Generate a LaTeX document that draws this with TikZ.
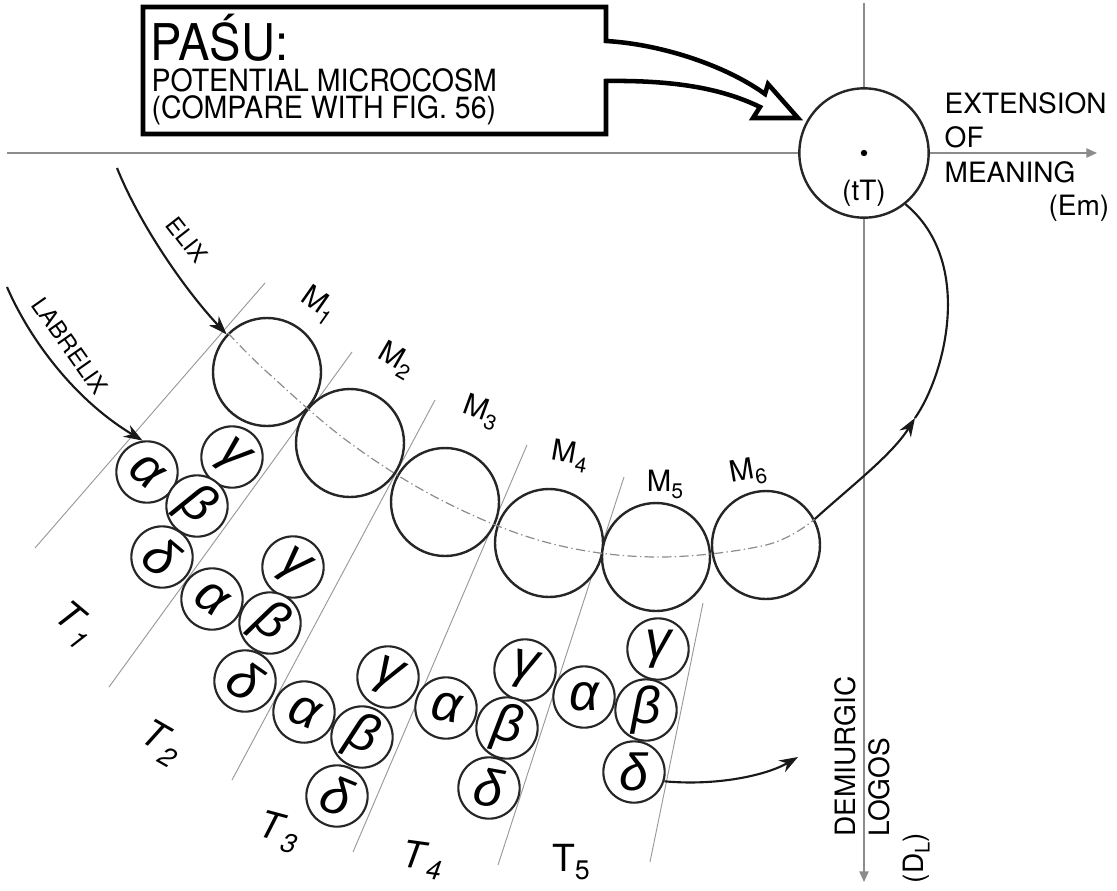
\documentclass[tikz,border=0pt]{standalone}
\usepackage{fontspec}
\setmainfont{TeX Gyre Heros}
\newfontfamily\grk{Liberation Sans}
\usetikzlibrary{arrows.meta}
\newcommand\sbs[1]{\raisebox{-0.45ex}{\scalebox{0.72}{#1}}}
\newcommand\narrow[1]{\scalebox{0.93}[1]{#1}}
\begin{document}
\begin{tikzpicture}[x=0.75pt,y=-0.75pt,
  axisline/.style={draw=black!45, line width=1.1pt},
  divline/.style={draw=black!40, line width=0.7pt},
  mcirc/.style={circle, draw=black!85, line width=1.8pt, fill=white, minimum size=81pt, inner sep=0pt},
  gcirc/.style={circle, draw=black!85, line width=1.6pt, fill=white, minimum size=46pt, inner sep=0pt, font=\grk\itshape\fontsize{39pt}{39pt}\selectfont},
  tcirc/.style={circle, draw=black!85, line width=1.8pt, fill=white, minimum size=97pt, inner sep=0pt},
  arr/.style={draw=black!90, line width=1.6pt, -{Stealth[length=14pt,width=10pt]}},
  labtxt/.style={font=\fontsize{21pt}{24pt}\selectfont},
  boxtxt/.style={font=\fontsize{23pt}{26pt}\selectfont},
  smalltxt/.style={font=\fontsize{17.5pt}{19pt}\selectfont},
  mlab/.style={font=\fontsize{22pt}{24pt}\selectfont},
  tlab/.style={font=\fontsize{28pt}{30pt}\selectfont}
]
\fill[white] (0,0) rectangle (1117,890);

% divider lines
\draw[divline] (35,548) -- (265,283);
\draw[divline] (109,687) -- (352,352);
\draw[divline] (232,780) -- (435,400);
\draw[divline] (353,852) -- (527,445);
\draw[divline] (498,865) -- (624,477);
\draw[divline] (650,862) -- (703,603);

% axes
\coordinate (hs) at (7,153);
\coordinate (he) at (1097,153);
\coordinate (vs) at (864,3);
\coordinate (ve) at (864,882);
\draw[axisline, -{Triangle[length=8pt,width=7pt]}] (hs) -- (he);
\draw[axisline, -{Triangle[length=8pt,width=7pt]}] (vs) -- (ve);

% M circles
\node[mcirc] (M1) at (267,372) {};
\node[mcirc] (M2) at (350,443) {};
\node[mcirc] (M3) at (445,502) {};
\node[mcirc] (M4) at (549,543) {};
\node[mcirc] (M5) at (656,557) {};
\node[mcirc] (M6) at (766,545) {};

% greek circles
\node[gcirc, rotate=-40] (a1) at (147,472) {α};
\node[gcirc, rotate=-40] (g1) at (232,457) {γ};
\node[gcirc, rotate=-40] (b1) at (197,506) {β};
\node[gcirc, rotate=-40] (d1) at (162,557) {δ};
\node[gcirc, rotate=-35] (a2) at (212,599) {α};
\node[gcirc, rotate=-35] (g2) at (293,567) {γ};
\node[gcirc, rotate=-35] (b2) at (270,623) {β};
\node[gcirc, rotate=-35] (d2) at (245,681) {δ};
\node[gcirc, rotate=-22] (a3) at (304,712) {α};
\node[gcirc, rotate=-22] (g3) at (388,677) {γ};
\node[gcirc, rotate=-22] (b3) at (362,737) {β};
\node[gcirc, rotate=-22] (d3) at (337,796) {δ};
\node[gcirc, rotate=-10] (a4) at (446,708) {α};
\node[gcirc, rotate=-10] (g4) at (525,670) {γ};
\node[gcirc, rotate=-10] (b4) at (507,728) {β};
\node[gcirc, rotate=-10] (d4) at (489,788) {δ};
\node[gcirc] (a5) at (584,697) {α};
\node[gcirc] (g5) at (658,649) {γ};
\node[gcirc] (b5) at (646,710) {β};
\node[gcirc] (d5) at (634,772) {δ};

% dash-dot curve through M centres
\draw[black!45, line width=0.9pt, dash pattern=on 7pt off 2.5pt on 1pt off 2.5pt]
  plot[smooth, tension=0.6] coordinates {(M1.135) (M1.center) (M2.center) (M3.center) (M4.center) (M5.center) (M6.center) (M6.28)};

% tT circle
\node[tcirc] (tT) at (864,153) {};
\fill (tT.center) circle[radius=3.2];
\node[labtxt, anchor=base] (tTl) at (864,200) {(tT)};

% box with hollow arrow
\draw[line width=3.4pt, line join=miter, fill=white]
  (143,7) -- (606,7) -- (606,41) .. controls (660,44) and (725,65) .. (765,94)
  -- (768,84) -- (798,118) -- (753,118) -- (760,107)
  .. controls (725,90) and (680,80) .. (606,81) -- (606,134) -- (143,134) -- cycle;
\node[anchor=base west, font=\fontsize{38pt}{40pt}\selectfont] (pasu) at (146,60) {\narrow{PAŚU:}};
\node[anchor=base west, boxtxt] (pot) at (147,91) {\narrow{POTENTIAL MICROCOSM}};
\node[anchor=base west, boxtxt] (cmp) at (147,118) {\narrow{(COMPARE WITH FIG. 56)}};

% extension of meaning
\node[labtxt, anchor=base west] (ext) at (940,113) {EXTENSION};
\node[labtxt, anchor=base west] (of) at (940,147) {OF};
\node[labtxt, anchor=base west] (mean) at (940,182) {MEANING};
\node[labtxt, anchor=base east] (em) at (1114,215) {(Em)};

% demiurgic logos
\node[labtxt, anchor=base west, rotate=90] (dem) at (855,841) {DEMIURGIC};
\node[labtxt, anchor=base west, rotate=90] (log) at (889,841) {LOGOS};
\node[labtxt, anchor=base west, rotate=90] (dl) at (923,888) {(D\sbs{L})};

% big arc from M6 to tT
\coordinate (arcmid) at (915,418);
\draw[arr] (M6.28) .. controls (850,487) and (892,455) .. (arcmid);
\draw[draw=black!90, line width=1.6pt] (arcmid) .. controls (945,375) and (975,262) .. (tT.-51);

% delta arrow
\coordinate (dlend) at (798,757);
\draw[arr] (d5.-17) .. controls (715,786) and (765,776) .. (dlend);

% ELIX and LABRELIX
\coordinate (elixs) at (117,168);
\coordinate (labs) at (7,287);
\draw[arr] (elixs) .. controls (140,225) and (185,290) .. (M1.137);
\draw[arr] (labs) .. controls (30,340) and (75,400) .. (a1.138);
\node[smalltxt, rotate=-52, inner sep=0pt] (elix) at (187,240) {ELIX};
\node[smalltxt, rotate=-55, inner sep=0pt] (labr) at (70,346) {LABRELIX};

% M labels
\node[mlab, rotate=-35] (m1l) at (318,305) {M\sbs{1}};
\node[mlab, rotate=-30] (m2l) at (396,360) {M\sbs{2}};
\node[mlab, rotate=-20] (m3l) at (481,412) {M\sbs{3}};
\node[mlab, rotate=-10] (m4l) at (570,456) {M\sbs{4}};
\node[mlab] (m5l) at (665,484) {M\sbs{5}};
\node[mlab, rotate=10] (m6l) at (748,472) {M\sbs{6}};

% T labels
\node[tlab, rotate=-40] (t1l) at (74,625) {\textit{T}\sbs{\textit{1}}};
\node[tlab, rotate=-30] (t2l) at (161,743) {\textit{T}\sbs{\textit{2}}};
\node[tlab, rotate=-15] (t3l) at (279,832) {\textit{T}\sbs{\textit{3}}};
\node[tlab, rotate=-8] (t4l) at (422,860) {\textit{T}\sbs{\textit{4}}};
\node[tlab] (t5l) at (571,862) {T\sbs{5}};
\end{tikzpicture}
\end{document}
